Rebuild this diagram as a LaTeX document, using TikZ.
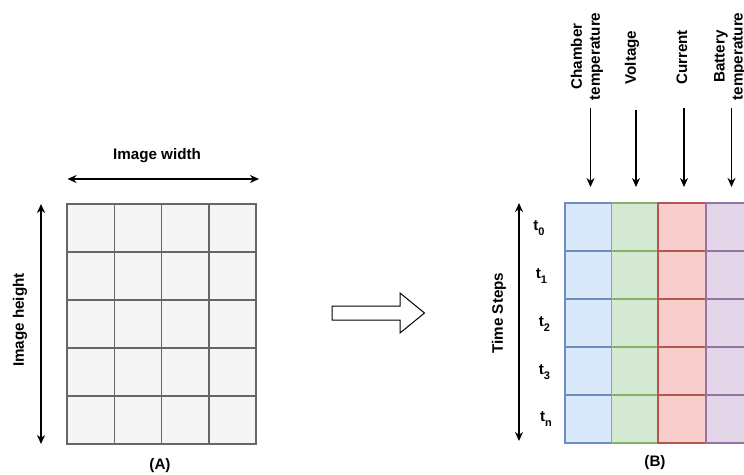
\documentclass[tikz,border=0pt]{standalone}
\usepackage{fontspec}
\setmainfont{Liberation Sans}
\usetikzlibrary{arrows.meta}
\definecolor{gfill}{HTML}{F5F5F5}
\definecolor{gline}{HTML}{666666}
\definecolor{bfill}{HTML}{DAE8FC}
\definecolor{bline}{HTML}{6C8EBF}
\definecolor{grfill}{HTML}{D5E8D4}
\definecolor{grline}{HTML}{82B366}
\definecolor{rfill}{HTML}{F8CECC}
\definecolor{rline}{HTML}{B85450}
\definecolor{pfill}{HTML}{E1D5E7}
\definecolor{pline}{HTML}{9673A6}
\tikzset{
  lbl/.style={font=\fontsize{15.2}{18}\selectfont\bfseries, inner sep=0pt, align=center},
  tlbl/.style={font=\fontsize{15.2}{18}\selectfont\bfseries, inner sep=0pt},
  dim/.style={line width=1.5pt, {Stealth[length=9pt,width=8pt]}-{Stealth[length=9pt,width=8pt]}},
  feed/.style={line width=1.5pt, -{Stealth[length=9pt,width=8pt]}},
  cellA/.style={fill=gfill, draw=gline, line width=1.5pt},
}
\newcommand{\sbs}[1]{\raisebox{-4.5pt}{\fontsize{11}{11}\selectfont #1}}
\begin{document}
\begin{tikzpicture}[x=1pt,y=-1pt]
\useasboundingbox (0,0) rectangle (744,474);
\clip (0,0) rectangle (744,474);
% ---------- (A) grid ----------
\foreach \c in {0,1,2,3}{
  \foreach \r in {0,1,2,3,4}{
    \draw[cellA] ({67+\c*47.25},{204+\r*48}) rectangle ({67+(\c+1)*47.25},{204+(\r+1)*48});
  }
}
\coordinate (wL) at (67.5,179);
\coordinate (wR) at (259,179);
\draw[dim] (wL) -- (wR);
\node[lbl] (wlab) at (157,156) {Image width};
\coordinate (hT) at (41,204);
\coordinate (hB) at (41,444);
\draw[dim] (hT) -- (hB);
\node[lbl, rotate=90] (hlab) at (20,320) {Image height};
\node[lbl] (capA) at (160,466) {(A)};
% ---------- hollow arrow ----------
\draw[line width=1pt, fill=white] (332,306) -- (400,306) -- (400,293) -- (424.5,313) -- (400,333) -- (400,320) -- (332,320) -- cycle;
% ---------- (B) grid ----------
\foreach \x/\f/\l in {565/bfill/bline, 611.5/grfill/grline, 658/rfill/rline, 706/pfill/pline}{
  \foreach \r in {0,1,2,3,4}{
    \draw[fill=\f, draw=\l, line width=1.5pt] (\x,{203+\r*48}) rectangle ({\x+47.5},{203+(\r+1)*48});
  }
}
\coordinate (tT) at (519,203);
\coordinate (tB) at (519,441);
\draw[dim] (tT) -- (tB);
\node[lbl, rotate=90] (tslab) at (499,313) {Time Steps};
\node[tlbl] (t0) at (539,228) {t\sbs{0}};
\node[tlbl] (t1) at (541.5,276) {t\sbs{1}};
\node[tlbl] (t2) at (544.5,324) {t\sbs{2}};
\node[tlbl] (t3) at (544.5,372) {t\sbs{3}};
\node[tlbl] (tn) at (546,419) {t\sbs{n}};
\node[lbl] (capB) at (655,463) {(B)};
% ---------- feature labels and arrows ----------
\node[lbl, rotate=90] (chamber) at (587,56.5) {Chamber\\temperature};
\node[lbl, rotate=90] (volt) at (632,57.5) {Voltage};
\node[lbl, rotate=90] (curr) at (682,57.5) {Current};
\node[lbl, rotate=90] (batt) at (730,56.5) {Battery\\temperature};
\coordinate (a1s) at (590.5,108);
\coordinate (a1e) at (590.5,187);
\coordinate (a2s) at (636,110);
\coordinate (a2e) at (636,187);
\coordinate (a3s) at (684,108);
\coordinate (a3e) at (684,187);
\coordinate (a4s) at (731.5,108);
\coordinate (a4e) at (731.5,187);
\draw[feed] (a1s) -- (a1e);
\draw[feed] (a2s) -- (a2e);
\draw[feed] (a3s) -- (a3e);
\draw[feed] (a4s) -- (a4e);
\end{tikzpicture}
\end{document}
